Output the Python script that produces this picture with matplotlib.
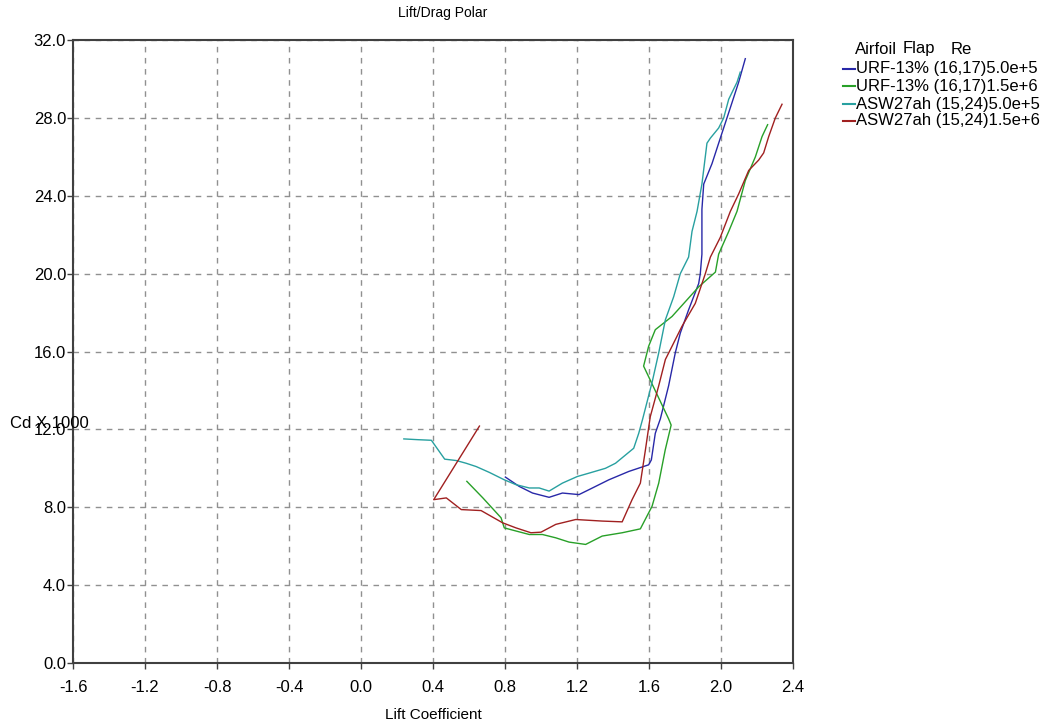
import matplotlib
matplotlib.use("Agg")
import matplotlib.pyplot as plt
from matplotlib.lines import Line2D

plt.rcParams['font.family'] = ['Liberation Sans', 'DejaVu Sans']

# ---- data ----
labels = ["URF-13% (16,17)5.0e+5", "URF-13% (16,17)1.5e+6",
          "ASW27ah (15,24)5.0e+5", "ASW27ah (15,24)1.5e+6"]
legend_header = ["Airfoil", "Flap", "Re"]
colors = ["#2828a8", "#28a028", "#28a0a0", "#a02020"]

urf_5e5_cl = [0.802, 0.879, 0.953, 1.045, 1.119, 1.211, 1.266, 1.377, 1.488, 1.598, 1.613,
              1.635, 1.663, 1.709, 1.746, 1.774, 1.820, 1.876, 1.885, 1.894, 1.894,
              1.904, 1.950, 1.987, 2.024, 2.061, 2.098, 2.135]
urf_5e5_cd = [9.55, 9.07, 8.73, 8.51, 8.73, 8.65, 8.90, 9.41, 9.84, 10.18, 10.43,
              11.8, 12.54, 14.24, 15.93, 16.95, 18.14, 19.49, 20.0, 21.0, 23.3,
              24.6, 25.65, 26.7, 27.74, 28.78, 29.83, 31.04]

urf_15e6_cl = [0.588, 0.677, 0.778, 0.796, 0.861, 0.935, 1.008, 1.082, 1.156, 1.248, 1.340,
               1.451, 1.552, 1.617, 1.654, 1.690, 1.723, 1.709, 1.570, 1.598, 1.635,
               1.728, 1.876, 1.969, 1.987, 2.043, 2.089, 2.135, 2.191, 2.228, 2.259]
urf_15e6_cd = [9.33, 8.48, 7.46, 6.94, 6.78, 6.60, 6.60, 6.43, 6.21, 6.09, 6.52,
               6.69, 6.89, 8.05, 9.24, 10.94, 12.22, 12.54, 15.25, 16.27, 17.12,
               17.8, 19.32, 20.08, 21.0, 22.17, 23.2, 24.78, 26.0, 27.04, 27.65]

asw_5e5_cl = [0.238, 0.317, 0.391, 0.465, 0.529, 0.584, 0.640, 0.713, 0.796, 0.861, 0.935,
              0.990, 1.045, 1.119, 1.202, 1.266, 1.358, 1.414, 1.515, 1.543, 1.565,
              1.617, 1.654, 1.691, 1.737, 1.774, 1.820, 1.839, 1.867, 1.894, 1.922,
              1.941, 1.987, 2.015, 2.043, 2.089, 2.107]
asw_5e5_cd = [11.51, 11.47, 11.44, 10.47, 10.40, 10.26, 10.09, 9.79, 9.41, 9.16, 8.99,
              8.99, 8.83, 9.24, 9.58, 9.75, 10.0, 10.26, 11.03, 11.80, 12.54,
              14.41, 15.93, 17.63, 18.81, 20.0, 20.85, 22.17, 23.2, 24.6, 26.7,
              26.96, 27.48, 28.0, 28.96, 29.83, 30.35]

asw_15e6_cl = [0.658, 0.404, 0.474, 0.557, 0.667, 0.787, 0.861, 0.944, 1.000, 1.082, 1.193,
               1.340, 1.451, 1.506, 1.552, 1.580, 1.607, 1.654, 1.691, 1.728, 1.783,
               1.857, 1.913, 1.941, 1.996, 2.052, 2.098, 2.154, 2.209, 2.237, 2.265,
               2.302, 2.339]
asw_15e6_cd = [12.17, 8.39, 8.48, 7.88, 7.83, 7.20, 6.94, 6.69, 6.72, 7.12, 7.37,
               7.29, 7.25, 8.39, 9.24, 10.94, 12.65, 14.24, 15.59, 16.27, 17.29,
               18.47, 20.0, 20.85, 21.86, 23.2, 24.09, 25.3, 25.83, 26.2, 27.04,
               28.0, 28.7]

series_cl = [urf_5e5_cl, urf_15e6_cl, asw_5e5_cl, asw_15e6_cl]
series_cd = [urf_5e5_cd, urf_15e6_cd, asw_5e5_cd, asw_15e6_cd]

x_ticks = [-1.6, -1.2, -0.8, -0.4, 0.0, 0.4, 0.8, 1.2, 1.6, 2.0, 2.4]
y_ticks = [0.0, 4.0, 8.0, 12.0, 16.0, 20.0, 24.0, 28.0, 32.0]

# ---- figure ----
W, H = 1041, 728
fig = plt.figure(figsize=(W / 100, H / 100), dpi=100)
fig.patch.set_facecolor("white")
ax = fig.add_axes([73 / W, 1 - 663 / H, (793 - 73) / W, (663 - 40) / H])

for cl, cd, c in zip(series_cl, series_cd, colors):
    ax.plot(cl, cd, color=c, lw=1.0, zorder=3)

ax.set_xlim(x_ticks[0], x_ticks[-1])
ax.set_ylim(y_ticks[0], y_ticks[-1])
ax.set_xticks(x_ticks)
ax.set_yticks(y_ticks)
ax.set_xticklabels([f"{v:.1f}" for v in x_ticks])
ax.set_yticklabels([f"{v:.1f}" for v in y_ticks])
ax.tick_params(axis="both", labelsize=12, direction="out", length=4,
               color="#404040", width=1, labelcolor="black")
ax.tick_params(axis="x", pad=8)
ax.tick_params(axis="y", pad=1)
ax.grid(True, color="#909090", linestyle=(0, (4, 4)), lw=1)
for s in ax.spines.values():
    s.set_color("#404040")
    s.set_linewidth(1.5)

fig.text(443 / W, 1 - 13 / H, "Lift/Drag Polar", ha="center", va="center", fontsize=10)
fig.text(433 / W, 1 - 715 / H, "Lift Coefficient", ha="center", va="center", fontsize=11)
fig.text(10 / W, 1 - 423 / H, "Cd X 1000", ha="left", va="center", fontsize=12)

# legend block at right
for txt, xp in zip(legend_header, [855, 903, 951]):
    fig.text(xp / W, 1 - 49 / H, txt, ha="left", va="center", fontsize=12)
ys = [69, 86, 104, 121]
for lab, c, yp in zip(labels, colors, ys):
    fig.add_artist(Line2D([843 / W, 855 / W], [1 - yp / H, 1 - yp / H],
                          color=c, lw=1.5, transform=fig.transFigure))
    fig.text(856 / W, 1 - yp / H, lab, ha="left", va="center", fontsize=12)

fig.savefig("out.png", dpi=100, facecolor="white")
